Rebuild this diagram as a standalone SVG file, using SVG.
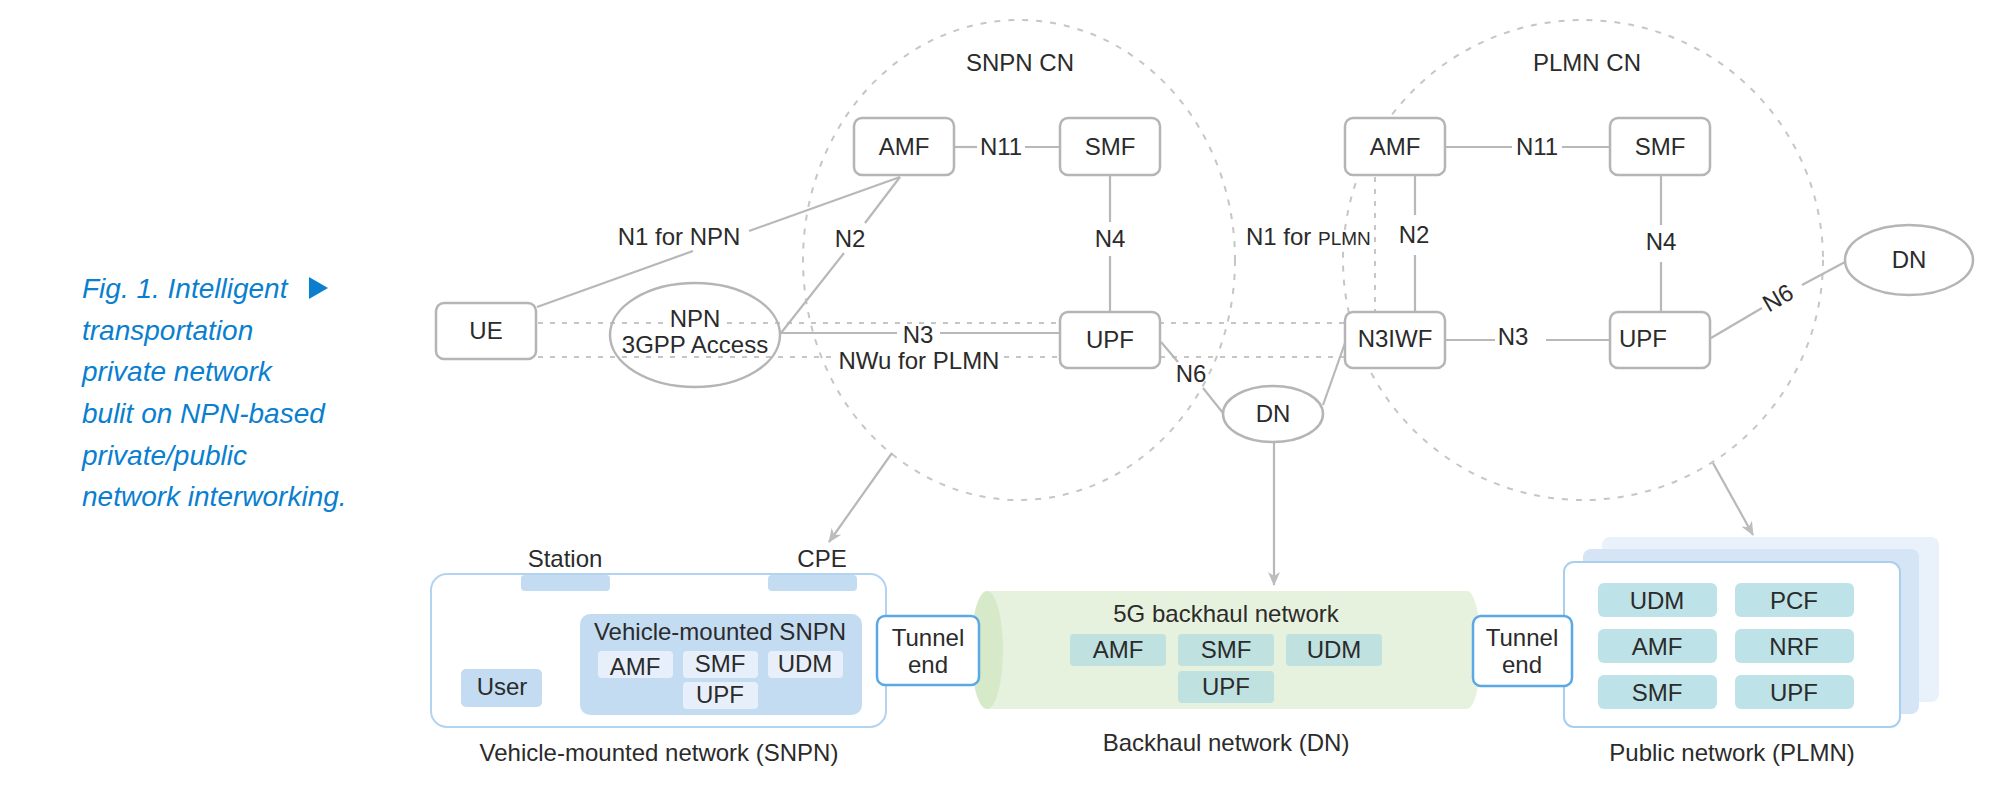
<svg xmlns="http://www.w3.org/2000/svg" width="2000" height="806" viewBox="0 0 2000 806">
<defs>
<style>
.box{fill:#fff;stroke:#b5b5b5;stroke-width:2.5}
.ln{stroke:#b8b8b8;stroke-width:2.2;fill:none}
.dash{stroke:#c6c6c6;stroke-width:2;stroke-dasharray:5 7;fill:none}
.cn{stroke:#c6c6c6;stroke-width:2;stroke-dasharray:6 8;fill:none}
.t{font-family:"Liberation Sans",Arial,sans-serif;font-size:24px;fill:#2b2b2b;text-anchor:middle}
.cap{font-family:"Liberation Sans",Arial,sans-serif;font-size:28px;font-style:italic;fill:#0b7fcf}
.tunnel{fill:#fff;stroke:#5aa9e6;stroke-width:2.5}
.vb{fill:#c3dcf2}
.vs{fill:#e7f0fa}
.bh{fill:#bfe1df}
.pb{fill:#bde2e8}
</style>
<marker id="arr" viewBox="0 0 14 12" refX="13" refY="6" markerWidth="14" markerHeight="12" markerUnits="userSpaceOnUse" orient="auto">
<path d="M0,0 L14,6 L0,12 L4,6 Z" fill="#bdbdbd"/>
</marker>
</defs>
<rect width="2000" height="806" fill="#fff"/>

<g id="caption">
<text class="cap" x="82" y="298">Fig. 1. Intelligent</text>
<polygon points="309,277 328,288 309,299" fill="#0b7fcf"/>
<text class="cap" x="82" y="340">transportation</text>
<text class="cap" x="82" y="381">private network</text>
<text class="cap" x="82" y="423">bulit on NPN-based</text>
<text class="cap" x="82" y="465">private/public</text>
<text class="cap" x="82" y="506">network interworking.</text>
</g>

<g id="snpn-cn">
<ellipse class="cn" cx="1019" cy="260" rx="216" ry="240"/>
<text class="t" x="1020" y="71">SNPN CN</text>
</g>
<g id="plmn-cn">
<ellipse class="cn" cx="1583" cy="260" rx="240" ry="240"/>
<text class="t" x="1587" y="71">PLMN CN</text>
</g>

<g id="connectors">
<line class="dash" x1="538" y1="323" x2="665" y2="323"/>
<line class="dash" x1="727" y1="323" x2="1345" y2="323"/>
<line class="dash" x1="538" y1="357" x2="835" y2="357"/>
<line class="dash" x1="1004" y1="357" x2="1345" y2="357"/>
<line class="dash" x1="1375" y1="177" x2="1375" y2="312"/>
<line class="ln" x1="537" y1="307" x2="693" y2="251"/>
<line class="ln" x1="749" y1="231" x2="900" y2="177"/>
<line class="ln" x1="900" y1="177" x2="865" y2="223"/>
<line class="ln" x1="844" y1="253" x2="781" y2="333"/>
<line class="ln" x1="954" y1="147" x2="977" y2="147"/>
<line class="ln" x1="1025" y1="147" x2="1060" y2="147"/>
<line class="ln" x1="1110" y1="175" x2="1110" y2="222"/>
<line class="ln" x1="1110" y1="256" x2="1110" y2="312"/>
<line class="ln" x1="781" y1="333" x2="897" y2="333"/>
<line class="ln" x1="940" y1="333" x2="1060" y2="333"/>
<line class="ln" x1="1161" y1="342" x2="1178" y2="362"/>
<line class="ln" x1="1203" y1="388" x2="1223" y2="413"/>
<line class="ln" x1="1323" y1="405" x2="1345" y2="343"/>
<line class="ln" x1="1274" y1="442" x2="1274" y2="585" marker-end="url(#arr)"/>
<line class="ln" x1="1445" y1="147" x2="1512" y2="147"/>
<line class="ln" x1="1562" y1="147" x2="1610" y2="147"/>
<line class="ln" x1="1415" y1="175" x2="1415" y2="215"/>
<line class="ln" x1="1415" y1="255" x2="1415" y2="312"/>
<line class="ln" x1="1661" y1="175" x2="1661" y2="225"/>
<line class="ln" x1="1661" y1="262" x2="1661" y2="312"/>
<line class="ln" x1="1445" y1="340" x2="1495" y2="340"/>
<line class="ln" x1="1546" y1="340" x2="1610" y2="340"/>
<line class="ln" x1="1711" y1="338" x2="1762" y2="308"/>
<line class="ln" x1="1802" y1="285" x2="1845" y2="262"/>
<line class="ln" x1="892" y1="453" x2="829" y2="542" marker-end="url(#arr)"/>
<line class="ln" x1="1713" y1="463" x2="1753" y2="535" marker-end="url(#arr)"/>
</g>

<g id="labels">
<text class="t" x="679" y="245">N1 for NPN</text>
<text class="t" x="850" y="247">N2</text>
<text class="t" x="1001" y="155">N11</text>
<text class="t" x="1110" y="247">N4</text>
<text class="t" x="918" y="343">N3</text>
<text class="t" x="919" y="369">NWu for PLMN</text>
<text class="t" x="1191" y="382">N6</text>
<text class="t" x="1246" y="245" style="text-anchor:start">N1 for <tspan style="font-size:19px">PLMN</tspan></text>
<text class="t" x="1537" y="155">N11</text>
<text class="t" x="1414" y="243">N2</text>
<text class="t" x="1661" y="250">N4</text>
<text class="t" x="1513" y="345">N3</text>
<text class="t" x="0" y="0" transform="translate(1782,305) rotate(-30)">N6</text>
</g>

<g id="ue"><rect class="box" x="436" y="303" width="100" height="56" rx="8"/><text class="t" x="486" y="339">UE</text></g>
<g id="npn-access"><ellipse cx="695" cy="335" rx="85" ry="52" fill="none" stroke="#b5b5b5" stroke-width="2.5"/><text class="t" x="695" y="327">NPN</text><text class="t" x="695" y="353">3GPP Access</text></g>
<g id="snpn-amf"><rect class="box" x="854" y="118" width="100" height="57" rx="8"/><text class="t" x="904" y="155">AMF</text></g>
<g id="snpn-smf"><rect class="box" x="1060" y="118" width="100" height="57" rx="8"/><text class="t" x="1110" y="155">SMF</text></g>
<g id="snpn-upf"><rect class="box" x="1060" y="312" width="100" height="56" rx="8"/><text class="t" x="1110" y="348">UPF</text></g>
<g id="dn-mid"><ellipse cx="1273" cy="414" rx="50" ry="28" fill="#fff" stroke="#b5b5b5" stroke-width="2.5"/><text class="t" x="1273" y="422">DN</text></g>
<g id="plmn-amf"><rect class="box" x="1345" y="118" width="100" height="57" rx="8"/><text class="t" x="1395" y="155">AMF</text></g>
<g id="plmn-smf"><rect class="box" x="1610" y="118" width="100" height="57" rx="8"/><text class="t" x="1660" y="155">SMF</text></g>
<g id="n3iwf"><rect class="box" x="1345" y="312" width="100" height="56" rx="8"/><text class="t" x="1395" y="347">N3IWF</text></g>
<g id="plmn-upf"><rect class="box" x="1610" y="312" width="100" height="56" rx="8"/><text class="t" x="1619" y="347" style="text-anchor:start">UPF</text></g>
<g id="dn-right"><ellipse cx="1909" cy="260" rx="64" ry="35" fill="#fff" stroke="#b5b5b5" stroke-width="2.5"/><text class="t" x="1909" y="268">DN</text></g>

<g id="vehicle-network">
<rect x="431" y="574" width="455" height="153" rx="16" fill="#fff" stroke="#b3d4f1" stroke-width="2"/>
<text class="t" x="565" y="567">Station</text>
<text class="t" x="822" y="567">CPE</text>
<rect class="vb" x="521" y="575" width="89" height="16" rx="4"/>
<rect class="vb" x="768" y="575" width="89" height="16" rx="4"/>
<rect class="vb" x="461" y="669" width="81" height="38" rx="5"/>
<text class="t" x="502" y="695">User</text>
<rect class="vb" x="580" y="614" width="282" height="101" rx="10"/>
<text class="t" x="720" y="640">Vehicle-mounted SNPN</text>
<rect class="vs" x="598" y="651" width="75" height="27" rx="4"/><text class="t" x="635" y="675">AMF</text>
<rect class="vs" x="683" y="651" width="75" height="27" rx="4"/><text class="t" x="720" y="672">SMF</text>
<rect class="vs" x="768" y="651" width="75" height="27" rx="4"/><text class="t" x="805" y="672">UDM</text>
<rect class="vs" x="683" y="682" width="75" height="27" rx="4"/><text class="t" x="720" y="703">UPF</text>
<text class="t" x="659" y="761">Vehicle-mounted network (SNPN)</text>
</g>

<g id="backhaul-network">
<path d="M987,591 L1467,591 A14,59 0 0 1 1467,709 L987,709 Z" fill="#e7f2de"/>
<ellipse cx="987" cy="650" rx="16" ry="59" fill="#d6e9c8"/>
<text class="t" x="1226" y="622">5G backhaul network</text>
<rect class="bh" x="1070" y="634" width="96" height="32" rx="4"/><text class="t" x="1118" y="658">AMF</text>
<rect class="bh" x="1178" y="634" width="96" height="32" rx="4"/><text class="t" x="1226" y="658">SMF</text>
<rect class="bh" x="1286" y="634" width="96" height="32" rx="4"/><text class="t" x="1334" y="658">UDM</text>
<rect class="bh" x="1178" y="671" width="96" height="32" rx="4"/><text class="t" x="1226" y="695">UPF</text>
<text class="t" x="1226" y="751">Backhaul network (DN)</text>
</g>

<g id="public-network">
<rect x="1602" y="537" width="337" height="165" rx="8" fill="#e9f2fb"/>
<rect x="1583" y="549" width="336" height="165" rx="8" fill="#d5e5f6"/>
<rect x="1564" y="562" width="336" height="165" rx="10" fill="#fff" stroke="#a9cff0" stroke-width="2"/>
<rect class="pb" x="1598" y="583" width="119" height="34" rx="6"/><text class="t" x="1657" y="609">UDM</text>
<rect class="pb" x="1735" y="583" width="119" height="34" rx="6"/><text class="t" x="1794" y="609">PCF</text>
<rect class="pb" x="1598" y="629" width="119" height="34" rx="6"/><text class="t" x="1657" y="655">AMF</text>
<rect class="pb" x="1735" y="629" width="119" height="34" rx="6"/><text class="t" x="1794" y="655">NRF</text>
<rect class="pb" x="1598" y="675" width="119" height="34" rx="6"/><text class="t" x="1657" y="701">SMF</text>
<rect class="pb" x="1735" y="675" width="119" height="34" rx="6"/><text class="t" x="1794" y="701">UPF</text>
<text class="t" x="1732" y="761">Public network (PLMN)</text>
</g>

<g id="tunnel-end-left"><rect class="tunnel" x="877" y="616" width="102" height="69" rx="8"/><text class="t" x="928" y="646">Tunnel</text><text class="t" x="928" y="673">end</text></g>
<g id="tunnel-end-right"><rect class="tunnel" x="1473" y="616" width="99" height="70" rx="8"/><text class="t" x="1522" y="646">Tunnel</text><text class="t" x="1522" y="673">end</text></g>
</svg>
